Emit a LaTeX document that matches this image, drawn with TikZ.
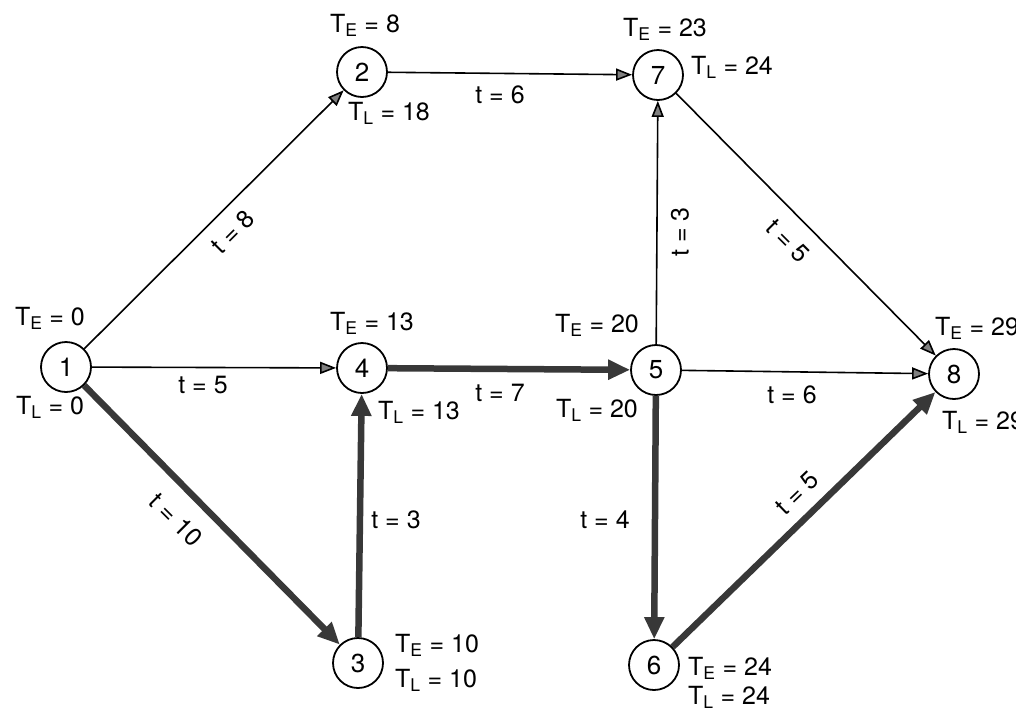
\documentclass[tikz,border=0pt]{standalone}
\usepackage{fontspec}
\setmainfont{TeX Gyre Heros}
\usetikzlibrary{arrows.meta}
\newcommand\tEv[1]{T\textsubscript{E} = #1}
\newcommand\tLv[1]{T\textsubscript{L} = #1}
\begin{document}
\begin{tikzpicture}[x=1pt,y=-1pt,
  ev/.style={circle,draw,line width=1.8pt,minimum size=50pt,inner sep=0pt,font=\fontsize{26}{28}\selectfont},
  lbl/.style={font=\fontsize{25}{28}\selectfont,inner sep=1pt},
  act/.style={line width=1.6pt,-{Triangle[length=16pt,width=12pt,fill=gray]}},
  crit/.style={line width=6.5pt,draw=black!78,-{Triangle[length=22pt,width=19pt]}},
]
\clip (0,0) rectangle (1016,724);
\fill[white] (0,0) rectangle (1016,724);
% events
\node[ev] (n1) at (66,367) {1};
\node[ev] (n2) at (362,72) {2};
\node[ev] (n3) at (358,663) {3};
\node[ev] (n4) at (362,368) {4};
\node[ev] (n5) at (656,370) {5};
\node[ev] (n6) at (654,665) {6};
\node[ev] (n7) at (658,75) {7};
\node[ev] (n8) at (954,374) {8};
% times
\node[lbl] (e1) at (50,318) {\tEv{0}};
\node[lbl] (l1) at (50,407) {\tLv{0}};
\node[lbl] (e2) at (365,25) {\tEv{8}};
\node[lbl] (l2) at (389,113) {\tLv{18}};
\node[lbl] (e7) at (665,29) {\tEv{23}};
\node[lbl] (l7) at (732,67) {\tLv{24}};
\node[lbl] (e4) at (372,323) {\tEv{13}};
\node[lbl] (l4) at (419,412) {\tLv{13}};
\node[lbl] (e5) at (597,325) {\tEv{20}};
\node[lbl] (l5) at (597,410) {\tLv{20}};
\node[lbl,anchor=west] (e8) at (934,328) {\tEv{29}};
\node[lbl,anchor=west] (l8) at (941,422) {\tLv{29}};
\node[lbl,anchor=west] (e3) at (394,645) {\tEv{10}};
\node[lbl,anchor=west] (l3) at (394,680) {\tLv{10}};
\node[lbl,anchor=west] (e6) at (687,668) {\tEv{24}};
\node[lbl,anchor=west] (l6) at (687,697) {\tLv{24}};
% activities
\draw[act] (n1) -- (n2);
\draw[act] (n1) -- (n4);
\draw[act] (n2) -- (n7);
\draw[act] (n5) -- (n7);
\draw[act] (n7) -- (n8);
\draw[act] (n5) -- (n8);
\draw[crit] (n1) -- (n3);
\draw[crit] (n3) -- (n4);
\draw[crit] (n4) -- (n5);
\draw[crit] (n5) -- (n6);
\draw[crit] (n6) -- (n8);
% activity durations
\node[lbl,rotate=45] (t12) at (233,232) {t = 8};
\node[lbl] (t14) at (203,385) {t = 5};
\node[lbl] (t27) at (500,95) {t = 6};
\node[lbl,rotate=90] (t57) at (680,232) {t = 3};
\node[lbl,rotate=-45] (t78) at (788,241) {t = 5};
\node[lbl] (t58) at (792,395) {t = 6};
\node[lbl,rotate=-45] (t13) at (176,520) {t = 10};
\node[lbl] (t34) at (396,520) {t = 3};
\node[lbl] (t45) at (500,393) {t = 7};
\node[lbl] (t56) at (605,520) {t = 4};
\node[lbl,rotate=44] (t68) at (797,493) {t = 5};
\end{tikzpicture}
\end{document}
